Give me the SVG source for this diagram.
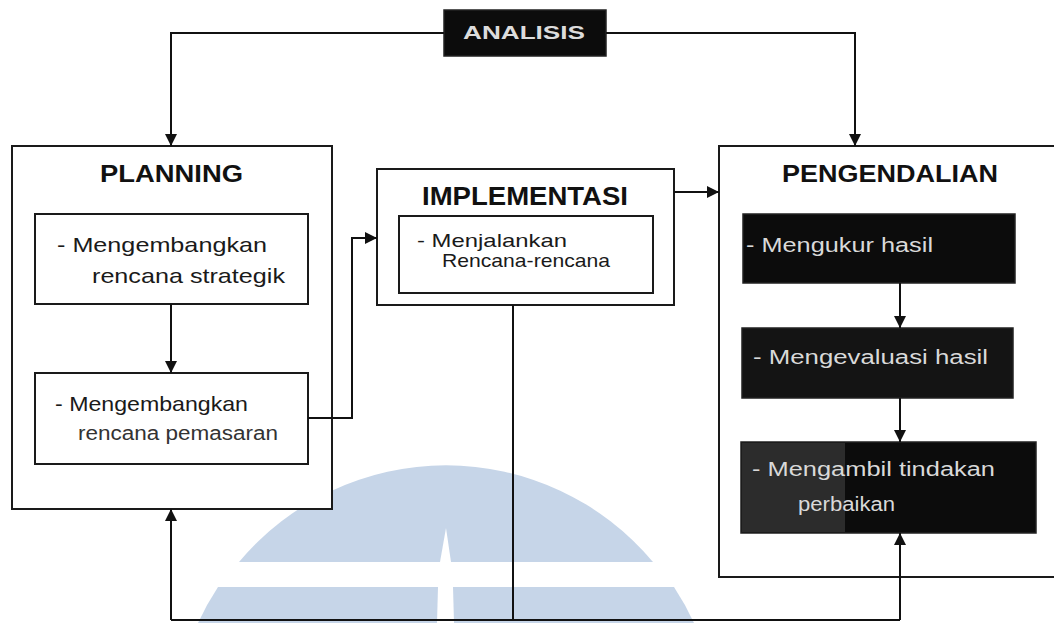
<svg xmlns="http://www.w3.org/2000/svg" width="1054" height="623" viewBox="0 0 1054 623">
<style>
.box{fill:#fff;stroke:#1a1a1a;stroke-width:2}
.dark{fill:#0c0c0c;stroke:#222;stroke-width:1.5}
.ttl{font-family:"Liberation Sans",Arial,sans-serif;font-weight:bold;fill:#111}
.txt{font-family:"Liberation Sans",Arial,sans-serif;fill:#1a1a1a}
.inv{font-family:"Liberation Sans",Arial,sans-serif;fill:#d9d9d9}
.ln{fill:none;stroke:#111;stroke-width:2}
.wm{fill:#c6d5e8}
</style>
<defs>
<marker id="ah" viewBox="0 0 10 10" refX="10" refY="5" markerWidth="13" markerHeight="12" markerUnits="userSpaceOnUse" orient="auto">
<path d="M0,0 L10,5 L0,10 z" fill="#111"/>
</marker>
</defs>
<rect width="1054" height="623" fill="#fff"/>
<g id="watermark">
<path class="wm" d="M239,562 A270,270 0 0,1 653,562 Z"/>
<path class="wm" d="M218,587 H674 A272,272 0 0,1 694,623 H198 A272,272 0 0,1 218,587 Z"/>
<polygon fill="#fff" points="446,528 440,562 451,562"/>
<polygon fill="#fff" points="438,587 453,587 454,623 437,623"/>
</g>
<g id="analisis">
<rect class="dark" x="444" y="10" width="162" height="46"/>
<text class="ttl" x="463" y="39" font-size="18" fill="#ddd" style="fill:#dcdcdc" textLength="122" lengthAdjust="spacingAndGlyphs">ANALISIS</text>
</g>
<g id="planning">
<rect class="box" x="12" y="146" width="320" height="363"/>
<text class="ttl" x="100" y="182" font-size="23" textLength="143" lengthAdjust="spacingAndGlyphs">PLANNING</text>
</g>
<g id="plan-strategik">
<rect class="box" x="35" y="214" width="273" height="90"/>
<text class="txt" x="57" y="252" font-size="21" textLength="210" lengthAdjust="spacingAndGlyphs">- Mengembangkan</text>
<text class="txt" x="92" y="283" font-size="21" textLength="193" lengthAdjust="spacingAndGlyphs">rencana strategik</text>
</g>
<g id="plan-pemasaran">
<rect class="box" x="35" y="373" width="273" height="91"/>
<text class="txt" x="55" y="411" font-size="21" textLength="193" lengthAdjust="spacingAndGlyphs">- Mengembangkan</text>
<text class="txt" x="78" y="440" font-size="20" textLength="200" lengthAdjust="spacingAndGlyphs" style="fill:#333">rencana pemasaran</text>
</g>
<g id="implementasi">
<rect class="box" x="377" y="169" width="297" height="136"/>
<text class="ttl" x="422" y="205" font-size="25" textLength="206" lengthAdjust="spacingAndGlyphs">IMPLEMENTASI</text>
</g>
<g id="impl-menjalankan">
<rect class="box" x="399" y="216" width="254" height="77"/>
<text class="txt" x="417" y="247" font-size="19" textLength="150" lengthAdjust="spacingAndGlyphs">- Menjalankan</text>
<text class="txt" x="442" y="267" font-size="19" textLength="168" lengthAdjust="spacingAndGlyphs">Rencana-rencana</text>
</g>
<g id="pengendalian">
<rect class="box" x="719" y="146" width="345" height="431"/>
<text class="ttl" x="782" y="182" font-size="23" textLength="216" lengthAdjust="spacingAndGlyphs">PENGENDALIAN</text>
</g>
<g id="peng-mengukur">
<rect class="dark" x="743" y="214" width="272" height="69"/>
<text class="inv" x="746" y="252" font-size="20" textLength="187" lengthAdjust="spacingAndGlyphs">- Mengukur hasil</text>
</g>
<g id="peng-mengevaluasi">
<rect class="dark" x="742" y="328" width="271" height="70" style="fill:#141414"/>
<text class="inv" x="753" y="364" font-size="20" textLength="235" lengthAdjust="spacingAndGlyphs">- Mengevaluasi hasil</text>
</g>
<g id="peng-tindakan">
<rect class="dark" x="741" y="442" width="295" height="91"/>
<rect x="742" y="443" width="103" height="89" fill="#2c2c2c"/>
<text class="inv" x="752" y="476" font-size="20" textLength="243" lengthAdjust="spacingAndGlyphs">- Mengambil tindakan</text>
<text class="inv" x="798" y="511" font-size="20" textLength="97" lengthAdjust="spacingAndGlyphs">perbaikan</text>
</g>
<g id="connectors">
<path class="ln" d="M444,33 H171 V146" marker-end="url(#ah)"/>
<path class="ln" d="M606,33 H855 V146" marker-end="url(#ah)"/>
<path class="ln" d="M171,304 V373" marker-end="url(#ah)"/>
<path class="ln" d="M308,418 H352 V238 H377" marker-end="url(#ah)"/>
<path class="ln" d="M674,192 H719" marker-end="url(#ah)"/>
<path class="ln" d="M900,283 V328" marker-end="url(#ah)"/>
<path class="ln" d="M900,398 V442" marker-end="url(#ah)"/>
<path class="ln" d="M171,620 H900"/>
<path class="ln" d="M171,620 V509" marker-end="url(#ah)"/>
<path class="ln" d="M900,620 V533" marker-end="url(#ah)"/>
<path class="ln" d="M513,620 V305"/>
</g>
</svg>
